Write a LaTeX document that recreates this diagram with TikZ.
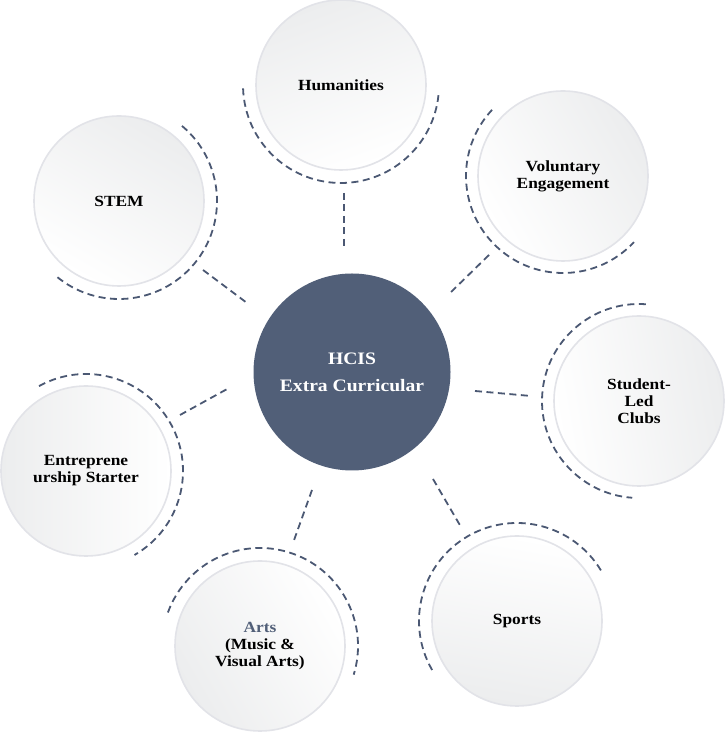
\documentclass[tikz,border=0pt]{standalone}
\usepackage{fontspec}
\setmainfont{Liberation Serif}[FakeStretch=1.12]
\definecolor{slate}{HTML}{515F78}
\definecolor{dashc}{HTML}{4B5873}
\definecolor{rim}{HTML}{E2E3E8}
\definecolor{shade}{HTML}{ECEDEE}
\begin{document}
\begin{tikzpicture}[x=1pt,y=1pt,
  outer/.style={circle,draw=rim,line width=1.6pt,minimum size=170pt,inner sep=0pt,
    top color=shade,bottom color=white,align=center,
    font=\bfseries\fontsize{15.5}{17}\selectfont},
  hub/.style={circle,fill=slate,minimum size=197pt,inner sep=0pt,align=center,text=white,
    font=\bfseries\fontsize{17.5}{27}\selectfont},
  dashline/.style={draw=dashc,line width=1.8pt,dash pattern=on 7pt off 4.5pt},
]
\useasboundingbox (0,0) rectangle (725,733);
\fill[white] (0,0) rectangle (725,733);

% hub
\node[hub] (hub) at (352,361) {HCIS\\Extra Curricular};

% outer circles
\node[outer,shading angle=20] (hum) at (341,648) {Humanities};
\node[outer,shading angle=-30] (stem) at (119,532) {STEM};
\node[outer,shading angle=-60] (vol) at (563,557) {Voluntary\\Engagement};
\node[outer,shading angle=-80] (club) at (639,332) {Student-\\Led\\Clubs};
\node[outer,shading angle=170] (sport) at (517,112) {Sports};
\node[outer,shading angle=120] (arts) at (260,87) {\textcolor{slate}{Arts}\\(Music \&\\Visual Arts)};
\node[outer,shading angle=90] (entr) at (86,262) {Entreprene\\urship Starter};

% dashed arcs
\draw[dashline] ([shift={(182:98)}]hum.center) arc[start angle=182,end angle=354,radius=98];
\draw[dashline] ([shift={(50:98)}]stem.center) arc[start angle=50,end angle=-130,radius=98];
\draw[dashline] ([shift={(137:97)}]vol.center) arc[start angle=137,end angle=317,radius=97];
\draw[dashline] ([shift={(86:97)}]club.center) arc[start angle=86,end angle=266,radius=97];
\draw[dashline] ([shift={(210:98)}]sport.center) arc[start angle=210,end angle=31,radius=98];
\draw[dashline] ([shift={(160:98)}]arts.center) arc[start angle=160,end angle=-17,radius=98];
\draw[dashline] ([shift={(119:97)}]entr.center) arc[start angle=119,end angle=-60,radius=97];

% connector ends
\coordinate (h1) at (344,540); \coordinate (h2) at (344,485);
\coordinate (s1) at (203,463); \coordinate (s2) at (247,430);
\coordinate (v1) at (489,478); \coordinate (v2) at (450,440);
\coordinate (c1) at (475,342); \coordinate (c2) at (531,337);
\coordinate (p1) at (433,254); \coordinate (p2) at (461,206);
\coordinate (a1) at (312,243); \coordinate (a2) at (293,190);
\coordinate (e1) at (180,318); \coordinate (e2) at (229,345);

\draw[dashline] (h1) -- (h2);
\draw[dashline] (s1) -- (s2);
\draw[dashline] (v1) -- (v2);
\draw[dashline] (c1) -- (c2);
\draw[dashline] (p1) -- (p2);
\draw[dashline] (a1) -- (a2);
\draw[dashline] (e1) -- (e2);
\end{tikzpicture}
\end{document}
